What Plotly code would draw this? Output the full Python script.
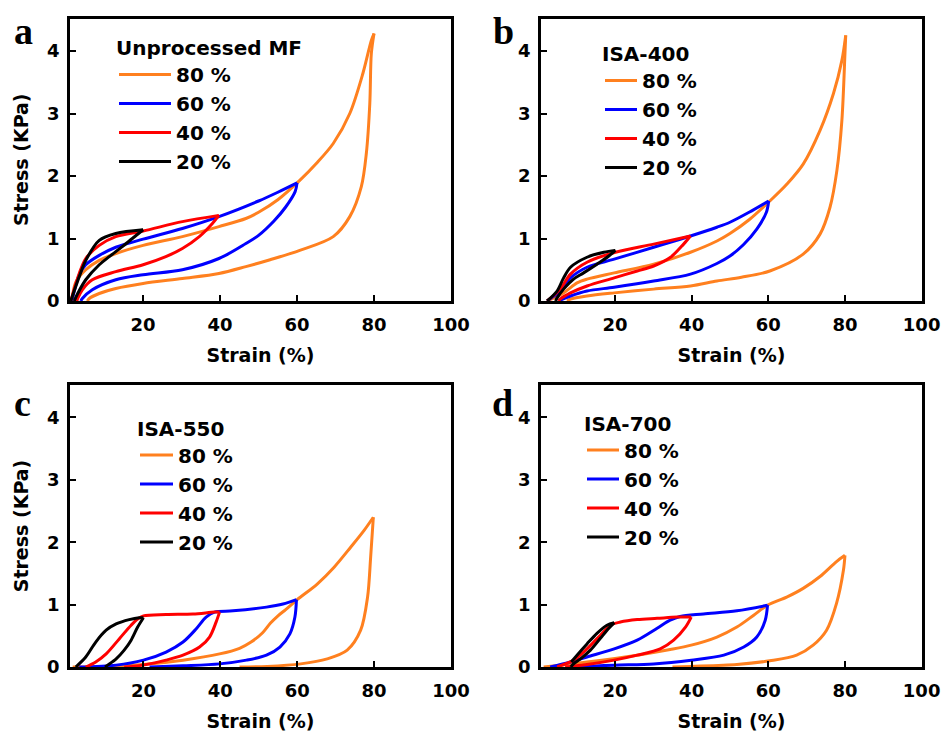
import numpy as np
import plotly.graph_objects as go

# ---------------- data (strain %, stress kPa), each loop = loading then unloading ----------------
levels = ["80 %", "60 %", "40 %", "20 %"]
colors = ["#FF801F", "#0000FF", "#FF0000", "#000000"]
panel_titles = ["Unprocessed MF", "ISA-400", "ISA-550", "ISA-700"]
panel_letters = ["a", "b", "c", "d"]
x_ticks = [20, 40, 60, 80, 100]
y_ticks = [0, 1, 2, 3, 4]

# Panel a  (Unprocessed MF)
a80_strain = [1.5, 2.5, 5.1, 8.6, 12.9, 20, 30.2, 39.7, 46.7, 50, 55, 60.7, 65, 69.4, 73.7, 77.1, 79.3, 80,
              79.3, 78.9, 78.0, 76.7, 73.7, 69.4, 60.7, 53, 46.7, 39.7, 30.2, 20, 12.9, 8.6, 6.0, 5.5]
a80_stress = [0, 0.3, 0.5, 0.65, 0.76, 0.89, 1.03, 1.19, 1.32, 1.42, 1.62, 1.93, 2.2, 2.52, 3.0, 3.64, 4.17, 4.28,
              3.96, 3.16, 2.36, 1.83, 1.35, 1.03, 0.81, 0.66, 0.55, 0.44, 0.36, 0.28, 0.2, 0.12, 0.04, 0]
a60_strain = [1.5, 3.4, 5.1, 8.6, 12.9, 20, 30.2, 39.7, 50, 55, 60,
              59.5, 57, 54, 50, 46.7, 39.7, 30.2, 20, 12.9, 6.8, 4.2, 3.8]
a60_stress = [0, 0.42, 0.58, 0.73, 0.86, 0.99, 1.16, 1.35, 1.6, 1.74, 1.89,
              1.75, 1.5, 1.28, 1.05, 0.92, 0.68, 0.5, 0.42, 0.34, 0.18, 0.04, 0]
a40_strain = [1.2, 3.4, 5.1, 8.6, 12.9, 20, 30.2, 39.7,
              38, 34.6, 30.2, 25.9, 20, 12.9, 6.8, 4.2, 3.0, 2.8]
a40_stress = [0, 0.44, 0.68, 0.89, 1.03, 1.12, 1.27, 1.37,
              1.24, 1.03, 0.84, 0.71, 0.58, 0.47, 0.34, 0.18, 0.04, 0]
a20_strain = [1.2, 3.4, 5.1, 8.6, 12.9, 20,
              17.2, 14.6, 11.2, 8.6, 5.1, 3.0, 2.1]
a20_stress = [0, 0.39, 0.65, 0.97, 1.08, 1.14,
              1.0, 0.87, 0.71, 0.58, 0.34, 0.12, 0]

# Panel b  (ISA-400)
b80_strain = [2.3, 6.6, 10.1, 12.7, 19.8, 30.1, 39.7, 46.6, 50, 55, 60.4, 65, 69.1, 73.5, 77, 79.2, 80.2,
              80.0, 79.2, 77.9, 76.1, 73.5, 69.1, 60.4, 53, 46.6, 39.7, 30.1, 19.8, 12.7, 8.4, 7.5]
b80_stress = [0, 0.13, 0.29, 0.35, 0.45, 0.59, 0.78, 0.96, 1.08, 1.3, 1.6, 1.88, 2.19, 2.73, 3.32, 3.85, 4.25,
              3.96, 2.89, 2.09, 1.5, 1.07, 0.75, 0.48, 0.38, 0.32, 0.24, 0.19, 0.13, 0.08, 0.03, 0]
b60_strain = [2.3, 5.7, 8.4, 12.7, 19.8, 30.1, 39.7, 46.6, 50, 55, 60.1,
              59.5, 57, 53.5, 50, 46.6, 39.7, 30.1, 19.8, 12.7, 8.4, 5.7, 5.5]
b60_stress = [0, 0.16, 0.37, 0.54, 0.67, 0.86, 1.04, 1.18, 1.26, 1.42, 1.6,
              1.42, 1.15, 0.9, 0.72, 0.6, 0.43, 0.32, 0.22, 0.16, 0.08, 0.01, 0]
b40_strain = [2.3, 5.7, 8.4, 12.7, 20.1, 30.1, 39.7,
              37.9, 34.5, 30.1, 25.8, 19.8, 12.7, 8.4, 5.7, 5.3]
b40_stress = [0, 0.19, 0.43, 0.62, 0.78, 0.91, 1.04,
              0.91, 0.7, 0.56, 0.48, 0.37, 0.24, 0.13, 0.03, 0]
b20_strain = [2.3, 4.9, 6.6, 8.4, 12.7, 17.1, 20.1,
              18.4, 15.3, 11.8, 9.2, 6.6, 4.9, 4.5]
b20_stress = [0, 0.16, 0.37, 0.54, 0.7, 0.78, 0.81,
              0.72, 0.59, 0.45, 0.35, 0.19, 0.05, 0]

# Panel c  (ISA-550)
c80_strain = [1.6, 10, 20, 30.3, 39.8, 45, 48, 51, 53, 55, 57, 60, 65.2, 69.6, 73.9, 77.4, 79.8,
              79.1, 78.3, 76.5, 73, 67.8, 60.9, 52.2, 45]
c80_stress = [0, 0.01, 0.04, 0.11, 0.21, 0.3, 0.4, 0.55, 0.7, 0.82, 0.92, 1.08, 1.33, 1.6, 1.92, 2.19, 2.4,
              1.76, 1.12, 0.59, 0.27, 0.13, 0.05, 0.01, 0]
c60_strain = [3.3, 12.9, 20, 25.9, 30.3, 33.7, 36.3, 38.5, 43.3, 52, 56.3, 59.8,
              59.4, 58.1, 55.5, 52, 46.8, 39.8, 30.3, 21.6]
c60_stress = [0, 0.03, 0.11, 0.24, 0.4, 0.61, 0.8, 0.88, 0.9, 0.96, 1.01, 1.08,
              0.8, 0.53, 0.32, 0.19, 0.11, 0.05, 0.02, 0]
c40_strain = [5, 7.6, 10.3, 13.7, 16.8, 18.5, 20, 25.9, 32.9, 38.5, 39.8,
              38.9, 37.2, 34.6, 30.3, 25.9, 21.6, 17.2, 15]
c40_stress = [0, 0.08, 0.21, 0.45, 0.67, 0.77, 0.82, 0.84, 0.85, 0.88, 0.88,
              0.72, 0.48, 0.32, 0.19, 0.11, 0.05, 0.01, 0]
c20_strain = [2.4, 5, 7.6, 10.3, 12.9, 16.3, 18.9, 20,
              18.5, 16.8, 15, 12.9, 10.7, 10]
c20_stress = [0, 0.16, 0.4, 0.59, 0.69, 0.76, 0.79, 0.79,
              0.64, 0.43, 0.27, 0.13, 0.03, 0]

# Panel d  (ISA-700)
d80_strain = [1.4, 12.7, 25.8, 34.4, 39.9, 46.6, 51.8, 56.2, 59.8, 64.8, 69.1, 73.5, 77.8, 80,
              79.6, 77.8, 75.2, 71.7, 67.4, 60.4, 51.8, 39.9, 35]
d80_stress = [0, 0.08, 0.19, 0.28, 0.35, 0.48, 0.64, 0.83, 0.99, 1.12, 1.26, 1.45, 1.69, 1.79,
              1.55, 1.02, 0.59, 0.35, 0.19, 0.1, 0.04, 0.01, 0]
d60_strain = [3.1, 8.4, 12.7, 19.8, 25.8, 31, 34.4, 37, 43.1, 51.8, 59.8,
              59.2, 57, 53.6, 48.4, 39.9, 30.1, 19.8, 12.7, 10]
d60_stress = [0, 0.08, 0.16, 0.29, 0.43, 0.62, 0.75, 0.81, 0.85, 0.9, 0.99,
              0.75, 0.48, 0.32, 0.19, 0.11, 0.05, 0.03, 0.01, 0]
d40_strain = [4.9, 9.2, 12.7, 16.2, 18.8, 21.4, 25.8, 31, 36.2, 39.9,
              38.4, 35.3, 31.8, 25.8, 19.8, 12.7, 8.4, 7]
d40_stress = [0, 0.11, 0.29, 0.51, 0.67, 0.72, 0.76, 0.78, 0.8, 0.8,
              0.64, 0.43, 0.29, 0.19, 0.11, 0.04, 0.01, 0]
d20_strain = [8.6, 10.1, 12.7, 15.3, 17.9, 19.8,
              18.4, 16.2, 13.6, 11, 9.2, 8.5]
d20_stress = [0.08, 0.19, 0.37, 0.54, 0.67, 0.71,
              0.62, 0.46, 0.27, 0.13, 0.05, 0]

panels = [
    [(a80_strain, a80_stress), (a60_strain, a60_stress), (a40_strain, a40_stress), (a20_strain, a20_stress)],
    [(b80_strain, b80_stress), (b60_strain, b60_stress), (b40_strain, b40_stress), (b20_strain, b20_stress)],
    [(c80_strain, c80_stress), (c60_strain, c60_stress), (c40_strain, c40_stress), (c20_strain, c20_stress)],
    [(d80_strain, d80_stress), (d60_strain, d60_stress), (d40_strain, d40_stress), (d20_strain, d20_stress)],
]

# ---------------- layout geometry ----------------
W, H = 944, 734
xdom = [[70 / W, 451 / W], [541 / W, 922 / W], [70 / W, 451 / W], [541 / W, 922 / W]]
ydom = [[1 - 301 / H, 1 - 18.5 / H], [1 - 301 / H, 1 - 18.5 / H],
        [1 - 667 / H, 1 - 385 / H], [1 - 667 / H, 1 - 385 / H]]
xranges = [[1, 100], [0.7, 100.1], [0.9, 100], [0.7, 100.1]]
legend_pos = [(114, 29), (600, 35), (135, 409.5), (582, 404.5)]
legend_itemw = [52, 32, 33, 32]
letter_pos = [(12, 31), (491, 31), (12, 403), (490, 403)]

FONT = "DejaVu Sans"
fig = go.Figure()

for p, loops in enumerate(panels):
    sfx = "" if p == 0 else str(p + 1)
    lg = "legend" if p == 0 else "legend" + str(p + 1)
    for i, (sx, sy) in enumerate(loops):
        sx = np.array(sx, dtype=float)
        sy = np.array(sy, dtype=float)
        k = int(np.argmax(sx))
        for part, (xx, yy) in enumerate([(sx[:k + 1], sy[:k + 1]), (sx[k:], sy[k:])]):
            fig.add_trace(go.Scatter(
                x=xx, y=yy, mode="lines",
                line=dict(color=colors[i], width=3, shape="spline", smoothing=0.9),
                name=levels[i], legendgroup=f"p{p}_{i}", showlegend=(part == 0),
                legend=lg, xaxis="x" + sfx, yaxis="y" + sfx, hoverinfo="skip",
            ))

layout = dict(
    width=W, height=H, autosize=False,
    margin=dict(l=0, r=0, t=0, b=0, autoexpand=False),
    paper_bgcolor="white", plot_bgcolor="white",
    showlegend=True,
)

for p in range(4):
    sfx = "" if p == 0 else str(p + 1)
    axis_common = dict(
        showline=True, linecolor="black", linewidth=2.8, mirror=True,
        ticks="inside", ticklen=6, tickwidth=2, tickcolor="black",
        showgrid=False, zeroline=False, automargin=False,
        tickfont=dict(family=FONT, size=18, color="black", weight="bold"),
    )
    layout["xaxis" + sfx] = dict(
        axis_common, domain=xdom[p], range=xranges[p], tickvals=x_ticks,
        anchor="y" + sfx, ticklabelstandoff=5,
        title=dict(text="Strain (%)", standoff=16,
                   font=dict(family=FONT, size=19, color="black", weight="bold")),
    )
    yax = dict(axis_common, domain=ydom[p], range=[0, 4.52], tickvals=y_ticks,
               anchor="x" + sfx, ticklabelstandoff=4)
    if p in (0, 2):
        yax["title"] = dict(text="Stress (KPa)", standoff=14,
                            font=dict(family=FONT, size=19, color="black", weight="bold"))
    layout["yaxis" + sfx] = yax

    lx, ly = legend_pos[p]
    layout["legend" if p == 0 else "legend" + str(p + 1)] = dict(
        x=lx / W, y=1 - ly / H, xanchor="left", yanchor="top",
        bgcolor="rgba(0,0,0,0)", borderwidth=0,
        font=dict(family=FONT, size=20, color="black", weight="bold"),
        title=dict(text=panel_titles[p], side="top",
                   font=dict(family=FONT, size=20, color="black", weight="bold")),
        itemwidth=legend_itemw[p], tracegroupgap=0, traceorder="normal",
    )

layout["annotations"] = [
    dict(text=panel_letters[p], x=letter_pos[p][0] / W, y=1 - letter_pos[p][1] / H,
         xref="paper", yref="paper", xanchor="left", yanchor="middle", showarrow=False,
         font=dict(family="Liberation Serif", size=38, color="black", weight="bold"))
    for p in range(4)
]

fig.update_layout(**layout)
fig.write_html(
    "out.html",
    post_script="document.documentElement.style.margin='0';document.body.style.margin='0';"
                "document.documentElement.style.overflow='hidden';document.body.style.overflow='hidden';",
)
